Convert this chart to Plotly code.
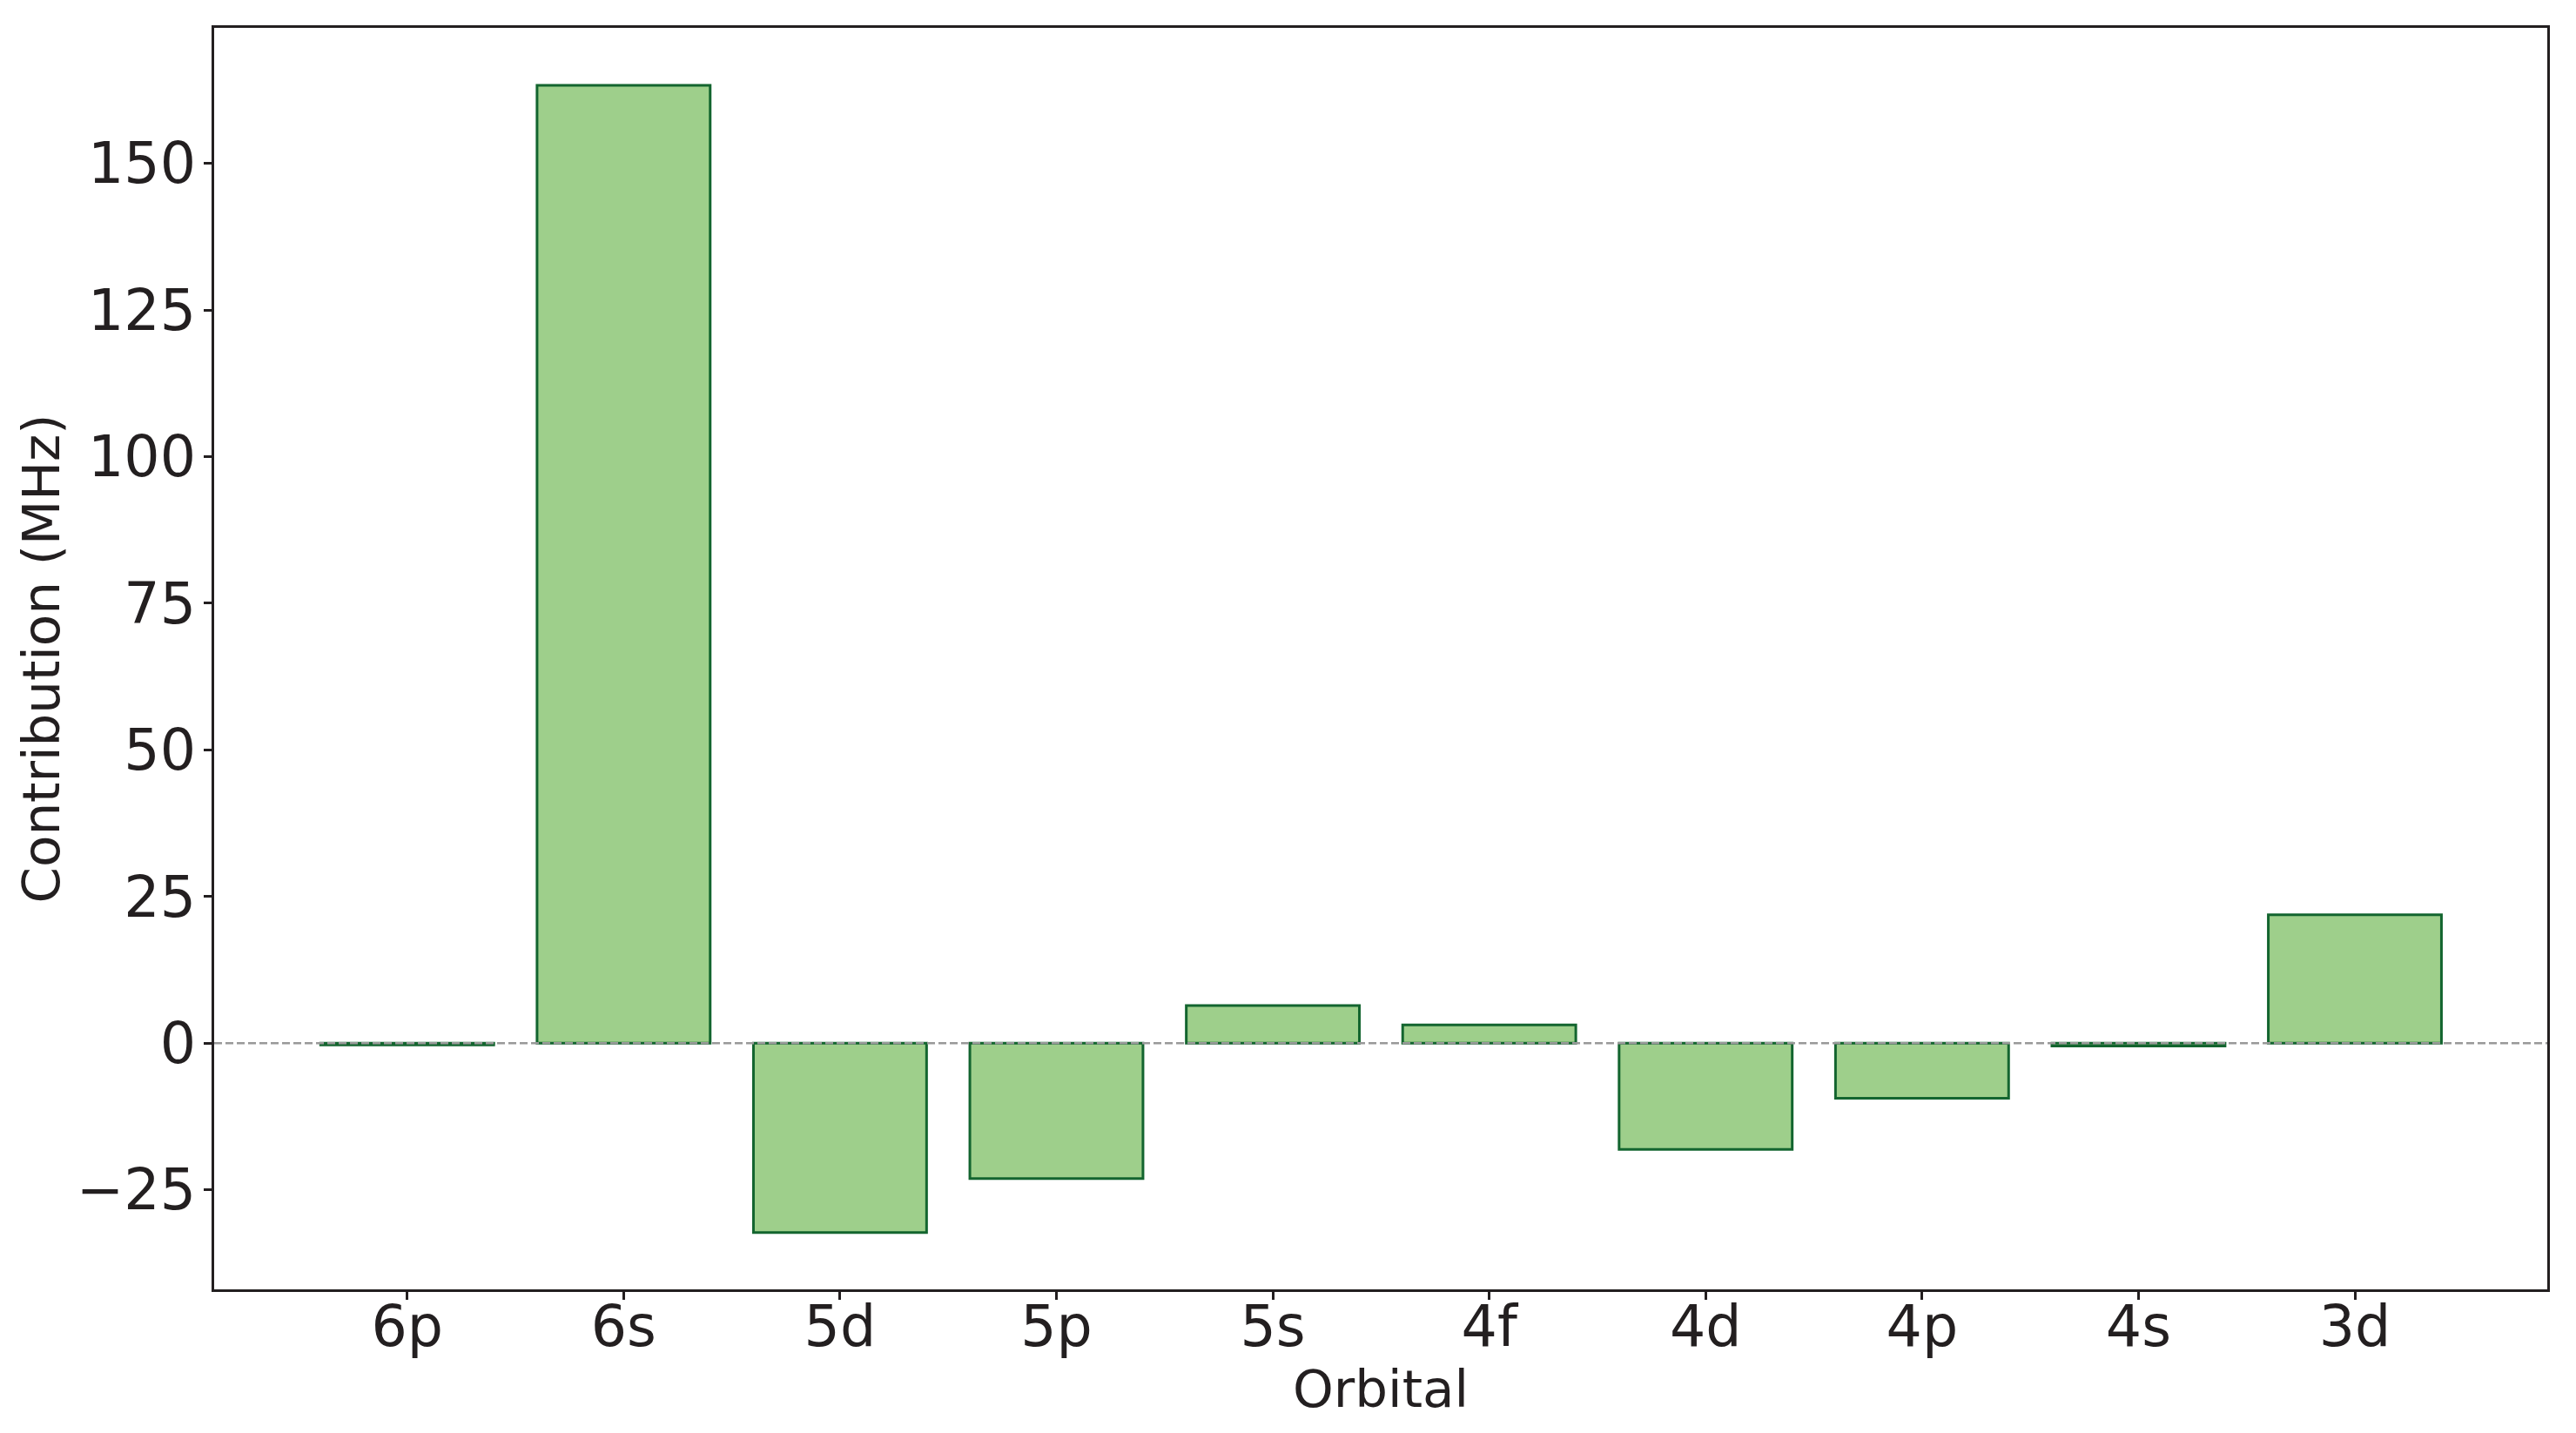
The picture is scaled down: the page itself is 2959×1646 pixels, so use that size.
import plotly.graph_objects as go

orbitals = ["6p", "6s", "5d", "5p", "5s", "4f", "4d", "4p", "4s", "3d"]
contributions = [-0.3, 163.3, -32.3, -23.1, 6.4, 3.1, -18.1, -9.4, -0.5, 21.9]
y_ticks = [-25, 0, 25, 50, 75, 100, 125, 150]

# the page body adds an 8px offset, so the canvas is 8px smaller
W, H = 2951, 1638
INK = "#231f20"
FONT = "DejaVu Sans"
FS_TICK = 65
FS_TITLE = 59.5

fig = go.Figure()
fig.add_trace(go.Bar(
    x=orbitals,
    y=contributions,
    marker=dict(color="#9ecf8b", line=dict(color="#13652f", width=3)),
    width=0.8,
    hoverinfo="x+y",
))

# zero reference line (full width, dashed)
fig.add_shape(type="line", xref="paper", yref="y", x0=0, x1=1, y0=0, y1=0,
              line=dict(color="#999999", width=2.5, dash="9px,4px"), layer="above")

fig.update_layout(
    width=W, height=H,
    margin=dict(l=238, r=33, t=24, b=165, autoexpand=False),
    paper_bgcolor="white", plot_bgcolor="white",
    showlegend=False,
    font=dict(family=FONT, size=FS_TICK, color=INK),
    bargap=0.2,
)
fig.update_xaxes(
    type="category",
    range=[-0.892, 9.889],
    showline=True, mirror=True, linecolor=INK, linewidth=3,
    ticks="outside", ticklen=9, tickwidth=3, tickcolor=INK,
    ticklabelstandoff=-25,
    showgrid=False, zeroline=False,
    tickfont=dict(family=FONT, size=FS_TICK, color=INK),
    title=dict(text="Orbital", font=dict(family=FONT, size=FS_TITLE, color=INK), standoff=12),
)
fig.update_yaxes(
    range=[-41.97, 173.1],
    tickvals=y_ticks,
    showline=True, mirror=True, linecolor=INK, linewidth=3,
    ticks="outside", ticklen=9, tickwidth=3, tickcolor=INK,
    ticklabelstandoff=-4,
    showgrid=False, zeroline=False,
    tickfont=dict(family=FONT, size=FS_TICK, color=INK),
    title=dict(text="Contribution (MHz)", font=dict(family=FONT, size=FS_TITLE, color=INK), standoff=0),
)

fig.write_html("out.html")
